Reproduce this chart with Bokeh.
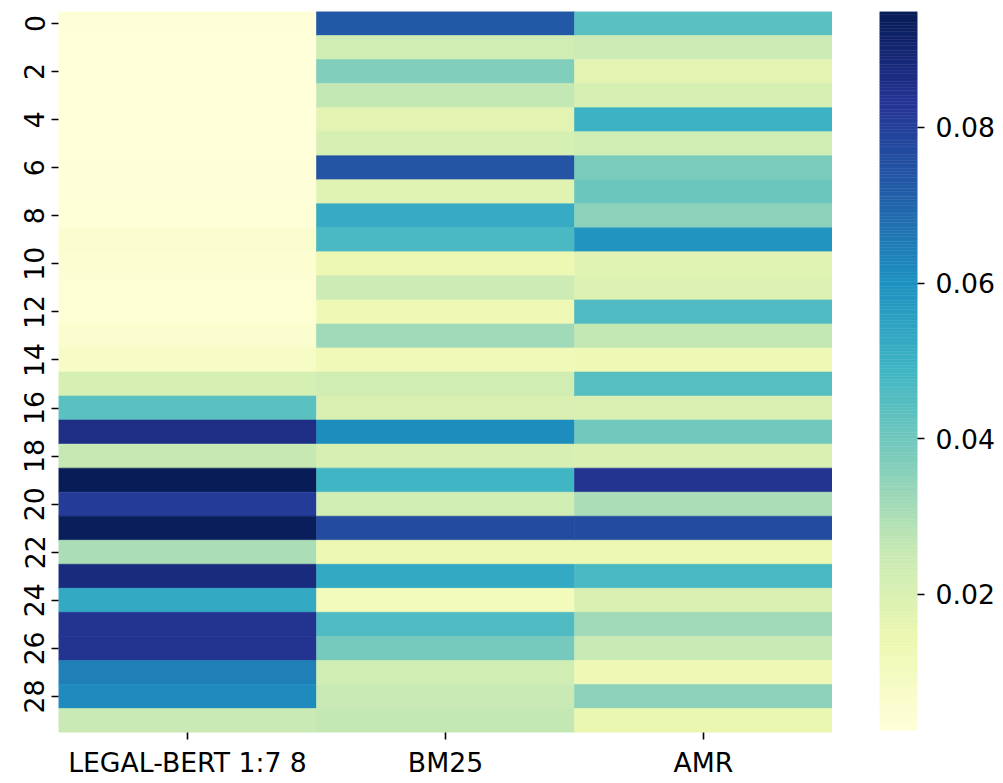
import numpy as np
from bokeh.plotting import figure
from bokeh.models import (ColumnDataSource, LinearColorMapper, FixedTicker,
                          Range1d, PrintfTickFormatter)
from bokeh.layouts import row
from bokeh.transform import transform
from bokeh.embed import file_html
from bokeh.resources import INLINE

# ---- data ----
columns = ["LEGAL-BERT 1:7 8", "BM25", "AMR"]
rows = list(range(30))

legal_bert = [0.0030, 0.0025, 0.0025, 0.0025, 0.0026, 0.0027, 0.0030, 0.0031, 0.0035, 0.0058,
              0.0050, 0.0040, 0.0042, 0.0060, 0.0080, 0.0210, 0.0440, 0.0860, 0.0256, 0.0949,
              0.0810, 0.0945, 0.0300, 0.0880, 0.0530, 0.0840, 0.0840, 0.0640, 0.0620, 0.0250]
bm25 = [0.0730, 0.0230, 0.0370, 0.0260, 0.0170, 0.0210, 0.0740, 0.0180, 0.0520, 0.0470,
        0.0140, 0.0240, 0.0130, 0.0320, 0.0120, 0.0230, 0.0200, 0.0610, 0.0210, 0.0490,
        0.0230, 0.0770, 0.0140, 0.0530, 0.0110, 0.0460, 0.0390, 0.0230, 0.0250, 0.0260]
amr = [0.0440, 0.0240, 0.0170, 0.0210, 0.0500, 0.0230, 0.0380, 0.0410, 0.0350, 0.0590,
       0.0180, 0.0190, 0.0460, 0.0260, 0.0130, 0.0450, 0.0200, 0.0400, 0.0200, 0.0840,
       0.0300, 0.0770, 0.0140, 0.0470, 0.0200, 0.0320, 0.0250, 0.0130, 0.0350, 0.0150]

series = [legal_bert, bm25, amr]
cbar_ticks = [0.02, 0.04, 0.06, 0.08]
row_ticks = list(range(0, 30, 2))

# ---- YlGnBu colormap (ColorBrewer anchors interpolated to 256) ----
anchors = ["#ffffd9", "#edf8b1", "#c7e9b4", "#7fcdbb", "#41b6c4",
           "#1d91c0", "#225ea8", "#253494", "#081d58"]
rgb = np.array([[int(h[i:i + 2], 16) for i in (1, 3, 5)] for h in anchors], dtype=float)
pos = np.linspace(0, 1, len(anchors))
t = np.linspace(0, 1, 256)
pal = []
for tt in t:
    c = [np.interp(tt, pos, rgb[:, k]) for k in range(3)]
    pal.append("#%02x%02x%02x" % tuple(int(round(v)) for v in c))

all_vals = [v for s in series for v in s]
vmin, vmax = min(all_vals), max(all_vals)
mapper = LinearColorMapper(palette=pal, low=vmin, high=vmax)

xs, ys, vals = [], [], []
for ci, s in enumerate(series):
    for ri, v in enumerate(s):
        xs.append(ci + 0.5)
        ys.append(ri + 0.5)
        vals.append(v)
src = ColumnDataSource(dict(x=xs, y=ys, v=vals))

FONT = "DejaVu Sans"
FS = "26.7px"


def style_axis(ax):
    ax.axis_line_color = None
    ax.major_tick_line_color = "black"
    ax.major_tick_line_width = 1.6
    ax.major_tick_out = 7
    ax.major_tick_in = 0
    ax.minor_tick_line_color = None
    ax.major_label_text_font = FONT
    ax.major_label_text_font_size = FS
    ax.major_label_text_color = "black"
    ax.major_label_standoff = 7


p = figure(output_backend="svg", toolbar_location=None,
           frame_width=774, frame_height=721,
           x_range=Range1d(0, 3), y_range=Range1d(30, 0),
           min_border_left=58, min_border_top=10, min_border_bottom=10, min_border_right=0,
           background_fill_color="white", border_fill_color="white")
p.outline_line_color = None
p.grid.visible = False

p.rect(x="x", y="y", width=1, height=1, source=src,
       fill_color=transform("v", mapper), line_color=transform("v", mapper), line_width=0.6)

p.xaxis.ticker = FixedTicker(ticks=[i + 0.5 for i in range(len(columns))])
p.xaxis.major_label_overrides = {i + 0.5: c for i, c in enumerate(columns)}
p.yaxis.ticker = FixedTicker(ticks=[r + 0.5 for r in row_ticks])
p.yaxis.major_label_overrides = {r + 0.5: str(r) for r in row_ticks}
p.yaxis.major_label_orientation = "vertical"
style_axis(p.xaxis[0])
style_axis(p.yaxis[0])

# ---- colour bar as its own small figure ----
edges = np.linspace(vmin, vmax, len(pal) + 1)
cb_src = ColumnDataSource(dict(bottom=edges[:-1], top=edges[1:], color=pal))
cbf = figure(output_backend="svg", toolbar_location=None,
             frame_width=38, frame_height=719,
             x_range=Range1d(0, 1), y_range=Range1d(vmin, vmax),
             x_axis_location=None, y_axis_location="right",
             min_border_left=47, min_border_top=11, min_border_bottom=10, min_border_right=10,
             background_fill_color="white", border_fill_color="white")
cbf.outline_line_color = None
cbf.grid.visible = False
cbf.quad(left=0, right=1, bottom="bottom", top="top", fill_color="color",
         line_color="color", line_width=0.5, source=cb_src)
cbf.yaxis.ticker = FixedTicker(ticks=cbar_ticks)
cbf.yaxis.formatter = PrintfTickFormatter(format="%.2f")
style_axis(cbf.yaxis[0])
cbf.yaxis.major_label_standoff = 11

layout = row(p, cbf, spacing=0)
open("out.html", "w").write(file_html(layout, INLINE))
